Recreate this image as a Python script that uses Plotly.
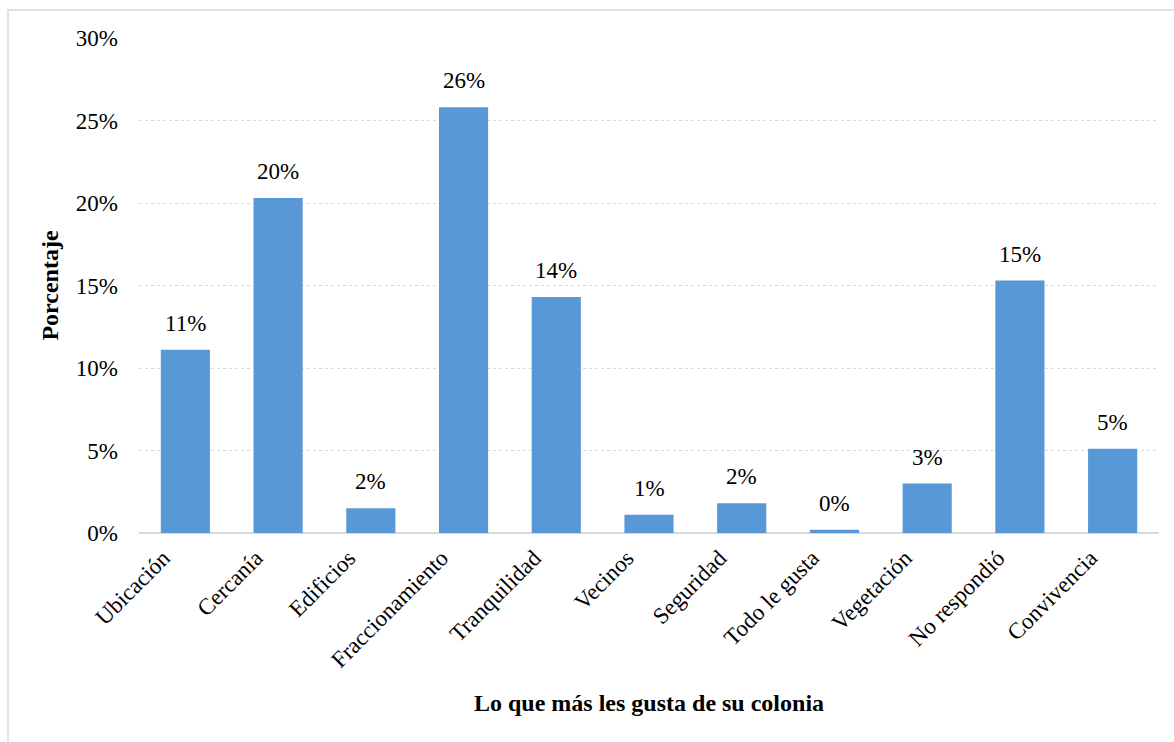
import plotly.graph_objects as go

# Survey results: what residents like most about their neighbourhood
categorias = ["Ubicación", "Cercanía", "Edificios", "Fraccionamiento", "Tranquilidad",
              "Vecinos", "Seguridad", "Todo le gusta", "Vegetación", "No respondió",
              "Convivencia"]
porcentajes = [11.1, 20.3, 1.5, 25.8, 14.3, 1.1, 1.8, 0.2, 3.0, 15.3, 5.1]
ticks_y = [0, 5, 10, 15, 20, 25, 30]

FONT = "Liberation Serif, Times New Roman, serif"
BAR = "#5898D6"
GRID = "#d9d9d9"

fig = go.Figure(
    go.Bar(
        x=categorias,
        y=porcentajes,
        marker=dict(color=BAR, line=dict(width=0)),
        width=0.53,
        hoverinfo="x+y",
    )
)

# value labels above each bar
for cat, val in zip(categorias, porcentajes):
    fig.add_annotation(
        x=cat, y=val, text=f"{val:.0f}%", showarrow=False,
        yanchor="bottom", yshift=12,
        font=dict(family=FONT, size=23, color="#000000"),
    )

# x-axis title
fig.add_annotation(
    x=0.5, y=-0.343, xref="paper", yref="paper",
    text="<b>Lo que más les gusta de su colonia</b>", showarrow=False,
    xanchor="center", yanchor="middle",
    font=dict(family=FONT, size=24, color="#000000"),
)

# light outer frame of the chart area
fig.add_shape(
    type="rect", xref="paper", yref="paper",
    x0=-0.1284, x1=1.03, y0=-0.5, y1=1.0566,
    line=dict(color=GRID, width=1.5), fillcolor="rgba(0,0,0,0)", layer="below",
)

fig.update_layout(
    width=1174, height=742,
    margin=dict(l=139, r=15, t=38, b=209),
    paper_bgcolor="white", plot_bgcolor="white",
    showlegend=False,
    font=dict(family=FONT, size=23, color="#000000"),
    bargap=0.47,
)

fig.update_xaxes(
    tickangle=-45,
    tickfont=dict(family=FONT, size=23, color="#000000"),
    showgrid=False, showline=False, ticks="",
    ticklabelshift=-22, ticklabelstandoff=6,
)

fig.update_yaxes(
    range=[0, 30],
    tickvals=ticks_y,
    ticktext=[f"{t}%" for t in ticks_y],
    tickfont=dict(family=FONT, size=23, color="#000000"),
    showgrid=True, gridcolor=GRID, gridwidth=1, griddash="3px,3px",
    zeroline=True, zerolinecolor=GRID, zerolinewidth=2,
    showline=False, ticks="", ticklabelstandoff=20,
    title=dict(text="<b>Porcentaje</b>", standoff=10,
               font=dict(family=FONT, size=24, color="#000000")),
)

fig.write_html("out.html")
